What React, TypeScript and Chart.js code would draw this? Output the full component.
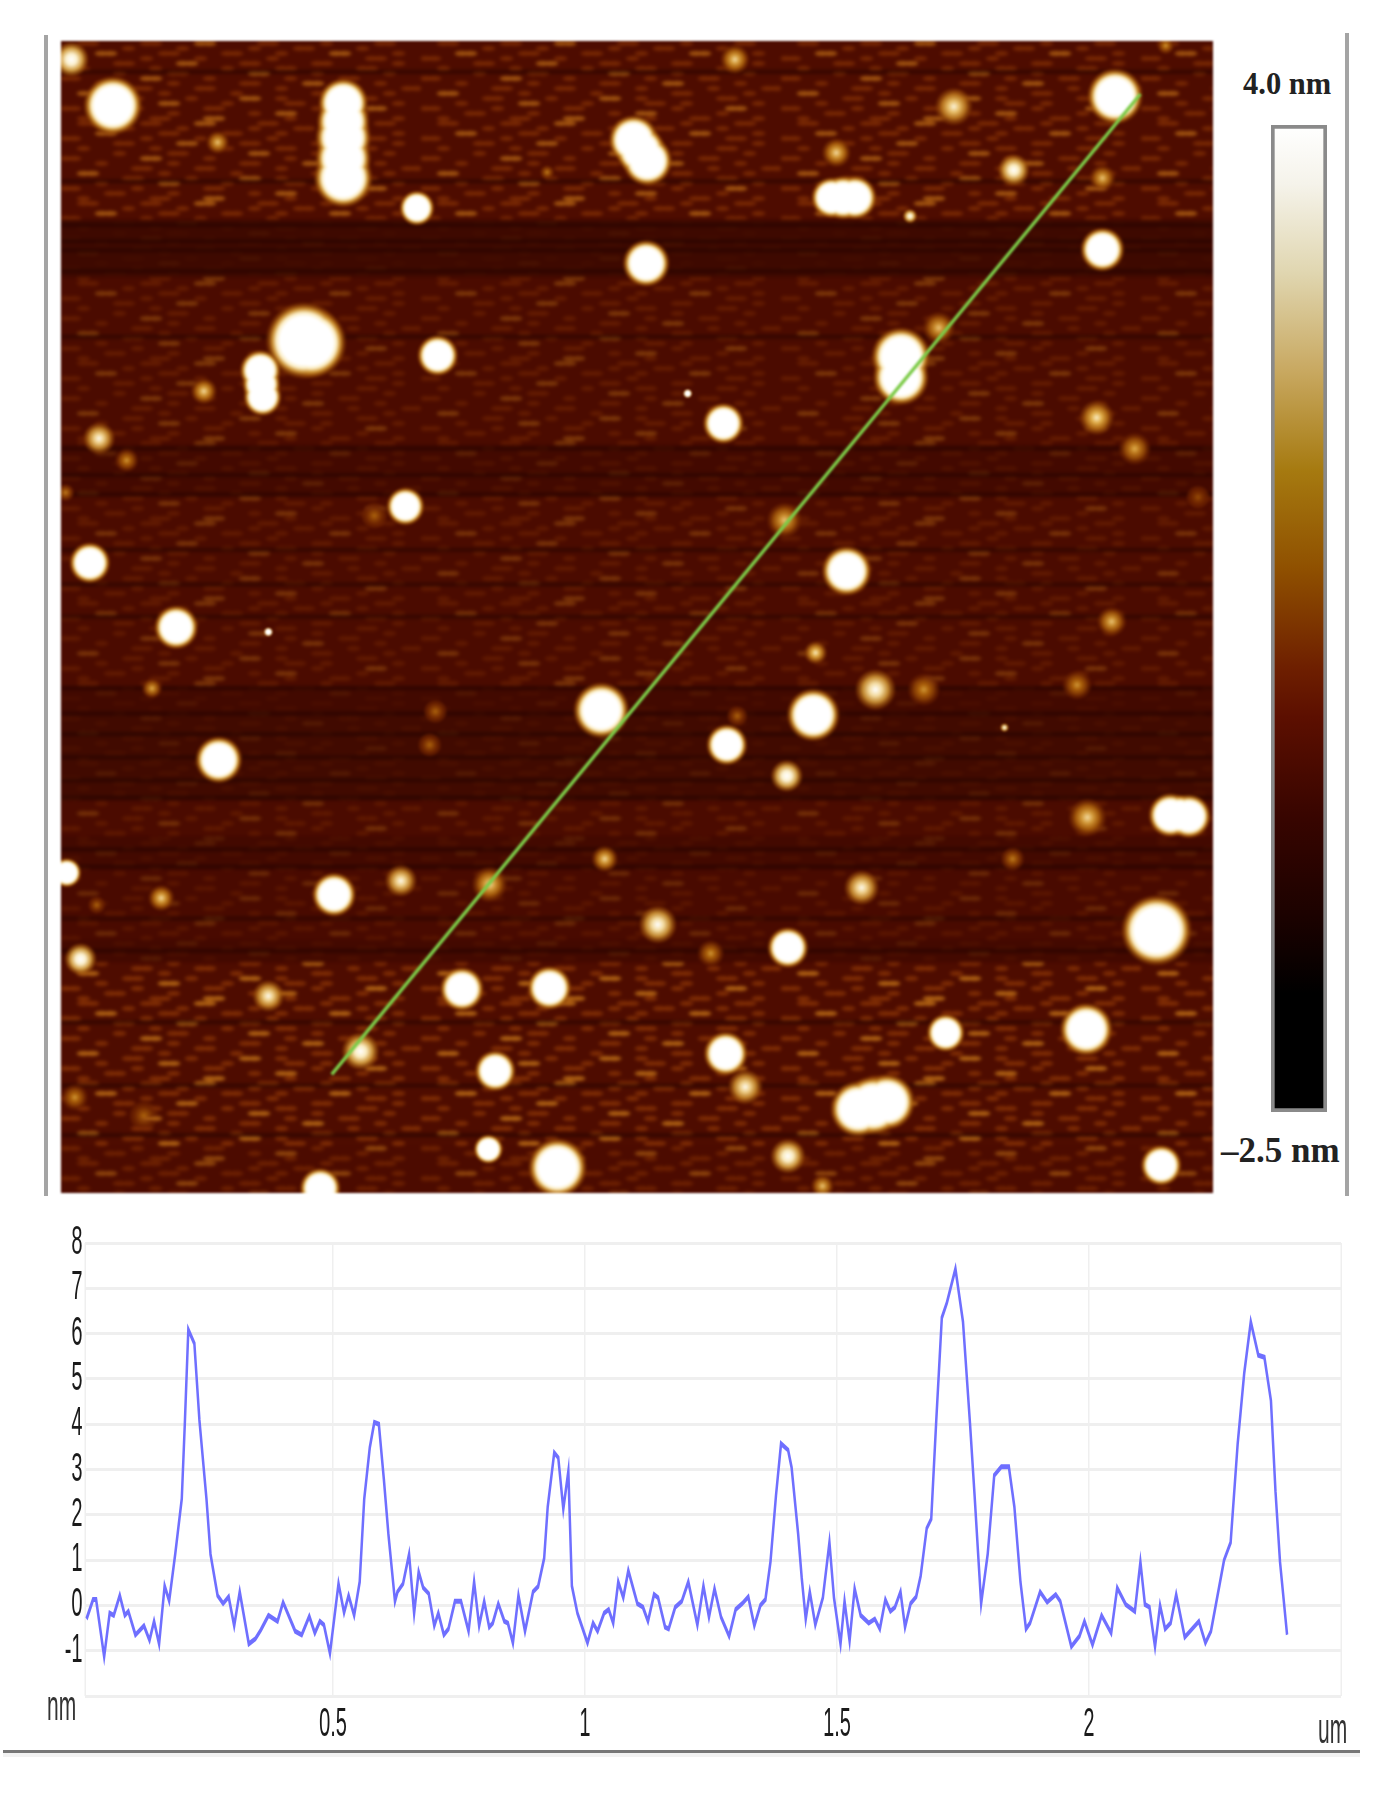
import React, { useEffect, useRef } from "react";
import { Chart, registerables } from "chart.js";
Chart.register(...registerables);

// ---------- profile (um, nm) ----------
const profileX = [0.011,0.024,0.03,0.046,0.057,0.065,0.077,0.087,0.094,0.108,0.125,0.136,0.145,0.155,0.166,0.175,0.187,0.2,0.206,0.213,0.225,0.235,0.249,0.257,0.271,0.282,0.293,0.304,0.315,0.333,0.346,0.357,0.372,0.39,0.401,0.425,0.438,0.453,0.464,0.474,0.482,0.494,0.511,0.522,0.531,0.542,0.553,0.562,0.573,0.582,0.591,0.601,0.61,0.623,0.628,0.639,0.651,0.661,0.67,0.679,0.69,0.701,0.709,0.72,0.729,0.742,0.754,0.769,0.78,0.79,0.8,0.81,0.817,0.828,0.84,0.847,0.857,0.868,0.881,0.897,0.907,0.919,0.926,0.939,0.947,0.957,0.967,0.974,0.985,1.005,1.016,1.025,1.038,1.047,1.056,1.066,1.076,1.086,1.104,1.115,1.125,1.137,1.145,1.159,1.166,1.179,1.192,1.205,1.223,1.235,1.246,1.257,1.27,1.286,1.299,1.312,1.324,1.336,1.348,1.358,1.368,1.379,1.389,1.403,1.41,1.423,1.43,1.438,1.446,1.457,1.472,1.485,1.494,1.507,1.515,1.525,1.535,1.547,1.563,1.575,1.585,1.596,1.606,1.615,1.626,1.635,1.646,1.657,1.666,1.678,1.687,1.697,1.708,1.718,1.735,1.75,1.764,1.773,1.786,1.799,1.812,1.826,1.841,1.852,1.864,1.875,1.883,1.903,1.917,1.934,1.943,1.965,1.981,1.991,2.007,2.025,2.044,2.056,2.073,2.091,2.102,2.111,2.12,2.131,2.141,2.151,2.162,2.173,2.19,2.218,2.231,2.242,2.268,2.281,2.295,2.308,2.321,2.336,2.348,2.361,2.37,2.379,2.393];
const profileY = [-0.3,0.13,0.13,-1.13,-0.17,-0.22,0.22,-0.22,-0.13,-0.65,-0.45,-0.77,-0.35,-0.85,0.43,0.1,1.13,2.35,4,6.09,5.78,4.09,2.35,1.13,0.22,0.04,0.19,-0.45,0.3,-0.85,-0.74,-0.54,-0.22,-0.35,0.07,-0.57,-0.65,-0.24,-0.61,-0.35,-0.43,-1.06,0.48,-0.16,0.22,-0.22,0.52,2.35,3.48,4.04,4,2.78,1.57,0.09,0.3,0.48,1.13,-0.17,0.74,0.39,0.26,-0.45,-0.17,-0.65,-0.52,0.09,0.09,-0.57,0.52,-0.45,0.09,-0.48,-0.39,0.04,-0.35,-0.39,-0.83,0.22,-0.57,0.3,0.42,1.04,2.17,3.37,3.26,2.13,2.96,0.43,-0.17,-0.83,-0.39,-0.57,-0.17,-0.09,-0.39,0.52,0.17,0.77,0.04,-0.04,-0.35,0.24,0.17,-0.48,-0.52,-0.04,0.09,0.52,-0.43,0.43,-0.26,0.37,-0.26,-0.68,-0.09,0.04,0.19,-0.45,0,0.13,0.96,2.43,3.57,3.43,3.04,1.57,0.61,-0.3,0.3,-0.43,0.17,1.39,0.17,-0.85,0.09,-0.78,0.37,-0.22,-0.39,-0.3,-0.52,0.13,-0.13,-0.04,0.3,-0.48,0.04,0.19,0.65,1.7,1.91,4.09,6.35,6.68,7.43,6.26,4,2.43,0.04,1.13,2.87,3.06,3.06,2.17,0.52,-0.52,-0.39,0.3,0.07,0.24,0.09,-0.91,-0.68,-0.35,-0.87,-0.22,-0.61,0.39,0.02,-0.13,0.96,0.02,-0.04,-0.91,0,-0.52,-0.39,0.24,-0.7,-0.35,-0.83,-0.57,1,1.39,3.57,5.13,6.26,5.52,5.48,4.52,2.52,0.96,-0.65];
const yTickValues = [8,7,6,5,4,3,2,1,0,-1,-2];
const xTickLabels = ["0.5","1","1.5","2"];

// ---------- height map: particles (map units 0..1000) ----------
const particleX = [9,45,136,245,245,245,309,585,775,915,959,497,509,673,827,904,669,689,737,422,508,904,211,217,173,175,327,124,762,729,729,544,575,899,932,33,57,299,272,4,628,987,682,25,100,180,912,79,655,707,749,882,469,653,325,320,578,587,137,630,819,891,963,979,5,472,826,237,295,372,87,31,695,518,951,17,564,631,180,348,424,768,890,260,577,377,594,692,717,12,72,371,431,631,225,661,955,245,245,679,971,705,174,503];
const particleY = [16,56,88,54,84,119,145,16,57,48,4,86,104,97,112,119,136,136,152,114,193,181,260,262,286,309,273,304,249,274,292,306,332,327,354,345,364,404,412,392,416,396,460,453,509,513,504,562,531,563,563,559,581,585,582,611,611,586,624,638,596,674,672,673,722,710,710,741,729,732,744,750,735,767,772,797,792,787,829,823,822,861,858,877,879,894,908,927,921,917,933,962,978,968,996,994,976,70,102,136,672,924,298,95];
const particleR = [12,20,8,17,19,20,12,10,13,19,6,17,17,10,11,9,14,15,5,5,16,15,26,24,14,13,14,9,11,20,19,3,14,12,11,11,8,13,9,6,12,8,17,14,15,3,10,7,8,14,11,10,19,18,8,8,14,7,16,11,3,13,15,15,10,9,8,15,11,12,9,6,12,13,24,11,9,14,11,15,15,13,18,13,15,14,12,19,19,9,10,10,20,12,14,8,14,18,19,15,14,20,13,17];
const particleLevel = [0.85,1,0.5,1,1,1,0.9,0.55,0.65,1,0.4,1,1,0.55,0.8,0.5,1,1,0.8,0.35,1,1,1,1,1,1,0.95,0.55,0.5,1,1,1,0.95,0.6,0.45,0.7,0.4,0.95,0.3,0.35,0.5,0.25,1,1,1,0.9,0.5,0.45,0.6,0.75,0.4,0.4,1,1,0.3,0.3,0.95,0.3,0.95,0.85,0.8,0.55,1,1,0.9,0.55,0.35,1,0.7,0.55,0.55,0.3,0.7,0.75,1,0.85,0.4,0.95,0.7,0.95,0.95,0.95,1,0.8,0.95,1,0.7,1,1,0.4,0.3,0.9,1,0.8,0.9,0.5,0.95,1,1,1,1,1,1,1];
const scanLineX = [235,937];
const scanLineY = [897,46];

// horizontal scan bands of the height map: start (map units), darkness, grain strength
const bandStart = [0,155,205,350,395,560,585,660,690,720,780,800,960];
const bandDark = [0,0.3,0.05,0.2,0.05,0.22,0.25,0.05,0.2,0.1,0.2,0,0.03];
const bandGrain = [0.85,0.15,0.55,0.35,0.5,0.2,0.25,0.45,0.25,0.4,0.25,1,0.7];
const darkLineY = [25,120,158,172,180,198,255,352,375,392,440,470,498,560,582,600,620,640,655,700,715,760,788,850,905,948];

const grainTile = [
  "..oo.....oo....##.....oo.....o.....oo...",
  ".......o.....o.......o....oo.....o......",
  "....##.....oo.....oo....o.....##.....o..",
  "oo.......o.....o.......o..........oo....",
  "......oo.....##.....oo......oo.......o..",
  "..o.......o.......o.....oo.......oo.....",
  "......o.....oo.......##.....o.......o...",
  "oo.......##.....o........o.....oo.......",
  "....o.......o.......oo.....##......o....",
  "........oo.....oo.......o.......o.....oo",
  "..##.......o.......o........oo......o...",
  ".......oo.....o.....##..o........oo.....",
  "....o......##.....o......oo..o.......o..",
  "oo......o.......oo..........o.....##....",
  ".....oo.....o........o..##.......o......",
  "..o.......oo....##.......o....oo.....o..",
];

const colorStops: [number, string][] = [
  [0,"#ffffff"],[0.06,"#f5f3ea"],[0.15,"#e0d6b0"],[0.25,"#c8a860"],[0.35,"#a67a10"],
  [0.45,"#8f5000"],[0.55,"#6e1f00"],[0.6,"#5c0f00"],[0.7,"#380500"],[0.8,"#1c0200"],[0.88,"#000000"],[1,"#000000"],
];

const FONT_SERIF = '"Liberation Serif", serif';
const FONT_SANS = '"Liberation Sans", Arial, sans-serif';

function peakColor(l: number, a: number) {
  const s: [number, number[]][] = [[0.2,[110,35,0]],[0.4,[170,95,10]],[0.6,[222,170,70]],[0.8,[250,235,190]],[1,[255,255,255]]];
  let c = s[s.length - 1][1];
  for (let i = 1; i < s.length; i++) {
    if (l <= s[i][0]) {
      const t = Math.max(0, (l - s[i - 1][0]) / (s[i][0] - s[i - 1][0]));
      c = s[i - 1][1].map((v, k) => Math.round(v + (s[i][1][k] - v) * t));
      break;
    }
  }
  return `rgba(${c[0]},${c[1]},${c[2]},${a})`;
}

function MapChart() {
  const ref = useRef<HTMLCanvasElement>(null);
  useEffect(() => {
    const cw = 9, ch = 5;
    const pattern = document.createElement("canvas");
    pattern.width = grainTile[0].length * cw;
    pattern.height = grainTile.length * ch;
    const pc = pattern.getContext("2d")!;
    grainTile.forEach((row, r) => [...row].forEach((k, c) => {
      if (k === ".") return;
      pc.fillStyle = k === "#" ? "rgba(185,105,20,0.9)" : "rgba(135,50,5,0.85)";
      pc.beginPath();
      pc.ellipse((c + 0.5) * cw, (r + 0.5) * ch, cw * 0.75, ch * 0.5, 0, 0, Math.PI * 2);
      pc.fill();
    }));
    const background = {
      id: "background",
      beforeDatasetsDraw(chart: any) {
        const { ctx, scales: { x, y }, chartArea: a } = chart;
        const left = x.getPixelForValue(0), w = x.getPixelForValue(1000) - left;
        const off = document.createElement("canvas");
        off.width = chart.canvas.width;
        off.height = chart.canvas.height;
        const o = off.getContext("2d")!;
        const fill = o.createPattern(pattern, "repeat")!;
        bandStart.forEach((s, i) => {
          const end = i + 1 < bandStart.length ? bandStart[i + 1] : 1000;
          const t = y.getPixelForValue(s), b = y.getPixelForValue(end);
          o.globalAlpha = 1;
          o.fillStyle = "#4e0c00";
          o.fillRect(left, t, w, b - t);
          o.globalAlpha = bandGrain[i];
          o.fillStyle = fill;
          o.fillRect(left, t, w, b - t);
          o.globalAlpha = bandDark[i];
          o.fillStyle = "#1a0200";
          o.fillRect(left, t, w, b - t);
        });
        o.globalAlpha = 1;
        o.fillStyle = "rgba(26,2,0,0.45)";
        darkLineY.forEach((l) => o.fillRect(left, y.getPixelForValue(l), w, 4));
        ctx.save();
        ctx.fillStyle = "#4e0c00";
        ctx.fillRect(a.left, a.top, a.width, a.height);
        ctx.filter = "blur(1.4px)";
        ctx.drawImage(off, 0, 0);
        ctx.restore();
      },
      beforeDatasetDraw(chart: any, args: any) {
        if (args.index === 1) { chart.ctx.save(); chart.ctx.globalCompositeOperation = "lighten"; }
      },
      afterDatasetDraw(chart: any, args: any) {
        if (args.index === 1) chart.ctx.restore();
      },
    };
    const chart = new Chart(ref.current!, {
      type: "bubble",
      plugins: [background],
      data: {
        datasets: [
          {
            type: "line",
            data: scanLineX.map((x, i) => ({ x, y: scanLineY[i] })),
            borderColor: "#7ccb48",
            borderWidth: 3.5,
            pointRadius: 0,
            tension: 0,
          } as any,
          {
            data: particleX.map((x, i) => ({ x, y: particleY[i], r: particleR[i] * 1.152 * 1.32, l: particleLevel[i] })),
            borderWidth: 0,
            backgroundColor: (c: any) => {
              const raw = c.raw, s = c.chart.scales;
              if (!raw || !s.x || !c.chart.chartArea) return "transparent";
              const px = s.x.getPixelForValue(raw.x), py = s.y.getPixelForValue(raw.y);
              const g = c.chart.ctx.createRadialGradient(px, py, 0, px, py, raw.r);
              const l = raw.l;
              if (l >= 0.9) {
                g.addColorStop(0, peakColor(1, 1));
                g.addColorStop(0.6, peakColor(1, 1));
                g.addColorStop(0.7, peakColor(0.82, 1));
                g.addColorStop(0.8, peakColor(0.55, 0.95));
                g.addColorStop(0.9, peakColor(0.35, 0.6));
                g.addColorStop(1, "rgba(110,35,0,0)");
              } else {
                g.addColorStop(0, peakColor(Math.min(1, l * 1.35), 1));
                g.addColorStop(0.3, peakColor(l, 1));
                g.addColorStop(0.6, peakColor(l * 0.72, 0.9));
                g.addColorStop(0.85, peakColor(l * 0.45, 0.5));
                g.addColorStop(1, "rgba(110,35,0,0)");
              }
              return g;
            },
          },
        ],
      },
      options: {
        animation: false,
        responsive: false,
        layout: { padding: 0, autoPadding: false },
        plugins: { legend: { display: false }, tooltip: { enabled: false } },
        scales: {
          x: { type: "linear", min: 0, max: 1000, display: false },
          y: { type: "linear", min: 0, max: 1000, reverse: true, display: false },
        },
      } as any,
    });
    return () => chart.destroy();
  }, []);
  return <canvas ref={ref} width={1152} height={1152} style={{ position: "absolute", left: 61, top: 41, width: 1152, height: 1152, filter: "blur(0.9px)" }} />;
}

function ColorBar() {
  const ref = useRef<HTMLCanvasElement>(null);
  useEffect(() => {
    const chart = new Chart(ref.current!, {
      type: "bar",
      data: {
        labels: ["nm"],
        datasets: [{
          data: [[-2.5, 4]],
          barPercentage: 1,
          categoryPercentage: 1,
          borderColor: "#8a8a8a",
          borderWidth: 4,
          borderSkipped: false,
          backgroundColor: (c: any) => {
            const a = c.chart.chartArea;
            if (!a) return "#000";
            const g = c.chart.ctx.createLinearGradient(0, a.top, 0, a.bottom);
            colorStops.forEach(([p, col]) => g.addColorStop(p, col));
            return g;
          },
        } as any],
      },
      options: {
        animation: false,
        responsive: false,
        layout: { padding: 0 },
        plugins: { legend: { display: false }, tooltip: { enabled: false } },
        scales: {
          x: { display: false },
          y: { min: -2.5, max: 4, display: false },
        },
      } as any,
    });
    return () => chart.destroy();
  }, []);
  return <canvas ref={ref} width={56} height={987} style={{ position: "absolute", left: 1271, top: 125, width: 56, height: 987, filter: "blur(0.6px)" }} />;
}

function ProfileChart() {
  const ref = useRef<HTMLCanvasElement>(null);
  useEffect(() => {
    const chart = new Chart(ref.current!, {
      type: "scatter",
      data: {
        datasets: [{
          data: profileX.map((x, i) => ({ x, y: profileY[i] })),
          showLine: true,
          borderColor: "#6f6fff",
          borderWidth: 5,
          pointRadius: 0,
          tension: 0,
        }],
      },
      options: {
        animation: false,
        responsive: false,
        layout: { padding: { top: 53, right: 118, bottom: 34, left: 0 } },
        plugins: { legend: { display: false }, tooltip: { enabled: false } },
        scales: {
          x: {
            type: "linear",
            min: 0.008,
            max: 2.5,
            afterFit: (s: any) => { s.height = 60; },
            afterBuildTicks: (s: any) => {
              s.ticks = [0.008, 0.5, 1, 1.5, 2, 2.5].map((value) => ({ value }));
            },
            grid: { color: "#efefef", lineWidth: 3, drawTicks: false },
            border: { display: false },
            ticks: {
              autoSkip: false,
              maxRotation: 0,
              padding: 5,
              color: "#1a1a1a",
              font: { family: FONT_SANS, size: 40 },
              callback: (v: number) => {
                const t = String(v);
                return xTickLabels.includes(t) ? t : "";
              },
            },
          },
          y: {
            type: "linear",
            min: -2,
            max: 8,
            afterFit: (s: any) => { s.width = 170; },
            afterBuildTicks: (s: any) => {
              s.ticks = yTickValues.map((value) => ({ value }));
            },
            grid: { color: "#efefef", lineWidth: 3, drawTicks: false },
            border: { display: false },
            ticks: {
              autoSkip: false,
              padding: 5,
              color: "#1a1a1a",
              font: { family: FONT_SANS, size: 40 },
              callback: (v: number) => (v === -2 ? "" : String(v)),
            },
          },
        },
      } as any,
    });
    return () => chart.destroy();
  }, []);
  return <canvas ref={ref} width={2800} height={600} style={{ display: "block", width: 2800, height: 600 }} />;
}

const rule = (left: number, top: number, width: number, height: number, background: string): React.CSSProperties => ({
  position: "absolute", left, top, width, height, background,
});
const serif = (left: number, top: number, size: number): React.CSSProperties => ({
  position: "absolute", left, top, fontFamily: FONT_SERIF, fontWeight: "bold", fontSize: size, lineHeight: 1, color: "#222", whiteSpace: "nowrap",
});
const squeezed = (left: number, top: number): React.CSSProperties => ({
  position: "absolute", left, top, fontFamily: FONT_SANS, fontSize: 42, lineHeight: 1, color: "#333", whiteSpace: "nowrap",
});

export default function App() {
  return (
    <div style={{ position: "absolute", left: 0, top: 0, width: 1400, height: 1805, overflow: "hidden", background: "#fff" }}>
      <div style={rule(44, 35, 4, 1161, "#a4a4a4")} />
      <div style={rule(1345, 33, 4, 1163, "#a4a4a4")} />
      <MapChart />
      <ColorBar />
      <span style={serif(1243, 69, 30.5)}>4.0 nm</span>
      <span style={serif(1221, 1133, 35)}>–2.5 nm</span>
      <div style={{ position: "absolute", left: 0, top: 1190, width: 2800, height: 600, transform: "scaleX(0.5)", transformOrigin: "0 0", filter: "blur(0.6px)" }}>
        <ProfileChart />
        <span style={squeezed(94, 495)}>nm</span>
        <span style={squeezed(2636, 518)}>um</span>
      </div>
      <div style={rule(3, 1750, 1357, 3, "#777")} />
      <div style={rule(3, 1753, 1357, 4, "#f2f2f2")} />
    </div>
  );
}
